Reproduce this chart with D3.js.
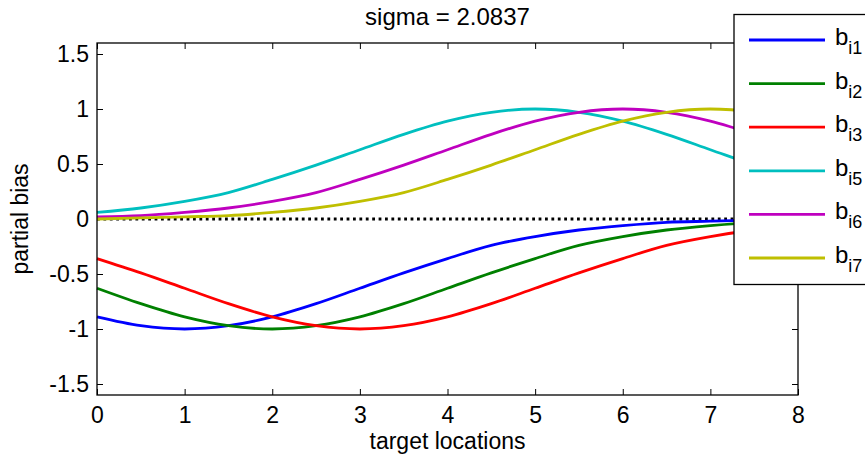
<!DOCTYPE html>
<html lang="en">

<head>
    <meta charset="UTF-8">
    <title>partial bias</title>
    <style>
        body {
            margin: 0;
            padding: 0;
            background-color: #fff;
        }

        svg {
            display: block;
            font-family: 'Liberation Sans', Arial, sans-serif;
        }

        .series {
            fill: none;
            stroke-width: 2.8px;
        }
    </style>
</head>

<body>
    <svg width="865" height="459"></svg>

    <script src="https://d3js.org/d3.v7.min.js"></script>
    <script>
        // target locations (x)
        const xValues = [0, 0.5, 1, 1.5, 2, 2.5, 3, 3.5, 4, 4.5, 5, 5.5, 6, 6.5, 7, 7.5, 8];

        // partial bias of each series, read at the x values above
        const bi1 = [-0.89, -0.97, -1.00, -0.97, -0.89, -0.77, -0.63, -0.49, -0.36, -0.24, -0.16, -0.10, -0.06, -0.03, -0.02, -0.01, -0.00];
        const bi2 = [-0.63, -0.77, -0.89, -0.97, -1.00, -0.97, -0.89, -0.77, -0.63, -0.49, -0.36, -0.24, -0.16, -0.10, -0.06, -0.03, -0.02];
        const bi3 = [-0.36, -0.49, -0.63, -0.77, -0.89, -0.97, -1.00, -0.97, -0.89, -0.77, -0.63, -0.49, -0.36, -0.24, -0.16, -0.10, -0.06];
        const bi5 = [0.06, 0.10, 0.16, 0.24, 0.36, 0.49, 0.63, 0.77, 0.89, 0.97, 1.00, 0.97, 0.89, 0.77, 0.63, 0.49, 0.36];
        const bi6 = [0.02, 0.03, 0.06, 0.10, 0.16, 0.24, 0.36, 0.49, 0.63, 0.77, 0.89, 0.97, 1.00, 0.97, 0.89, 0.77, 0.63];
        const bi7 = [0.00, 0.01, 0.02, 0.03, 0.06, 0.10, 0.16, 0.24, 0.36, 0.49, 0.63, 0.77, 0.89, 0.97, 1.00, 0.97, 0.89];

        const seriesNames = ["i1", "i2", "i3", "i5", "i6", "i7"];
        const seriesColors = ["#0000ff", "#008000", "#ff0000", "#00bfbf", "#bf00bf", "#bfbf00"];
        const seriesValues = [bi1, bi2, bi3, bi5, bi6, bi7];

        const xTicks = [0, 1, 2, 3, 4, 5, 6, 7, 8];
        const yTicks = [-1.5, -1, -0.5, 0, 0.5, 1, 1.5];

        const titleText = "sigma = 2.0837";
        const xLabel = "target locations";
        const yLabel = "partial bias";

        // plot box
        const boxL = 97, boxR = 798, boxT = 43, boxB = 395;

        const svg = d3.select("svg");

        const x = d3.scaleLinear().domain([0, 8]).range([boxL, boxR]);
        const y = d3.scaleLinear().domain([-1.6, 1.6]).range([boxB, boxT]);

        const fmt = v => String(v);
        const fontFam = "'Liberation Sans', Arial, sans-serif";

        // axes, ticks pointing inward (matlab style)
        svg.append("g")
            .attr("transform", `translate(0,${boxB})`)
            .call(d3.axisBottom(x).tickValues(xTicks).tickSizeInner(-6).tickSizeOuter(0).tickPadding(12).tickFormat(fmt))
            .call(g => g.select(".domain").remove())
            .call(g => g.selectAll("text").attr("fill", "#000").style("font-size", "23px").style("font-family", fontFam));

        svg.append("g")
            .attr("transform", `translate(0,${boxT})`)
            .call(d3.axisTop(x).tickValues(xTicks).tickSizeInner(-6).tickSizeOuter(0).tickFormat(""))
            .call(g => g.select(".domain").remove());

        svg.append("g")
            .attr("transform", `translate(${boxL},0)`)
            .call(d3.axisLeft(y).tickValues(yTicks).tickSizeInner(-6).tickSizeOuter(0).tickPadding(8).tickFormat(fmt))
            .call(g => g.select(".domain").remove())
            .call(g => g.selectAll("text").attr("fill", "#000").style("font-size", "23px").style("font-family", fontFam));

        svg.append("g")
            .attr("transform", `translate(${boxR},0)`)
            .call(d3.axisRight(y).tickValues(yTicks).tickSizeInner(-6).tickSizeOuter(0).tickFormat(""))
            .call(g => g.select(".domain").remove());

        svg.selectAll(".tick line").attr("stroke", "#000");

        // zero line
        svg.append("line")
            .attr("x1", x(0)).attr("x2", x(8))
            .attr("y1", y(0)).attr("y2", y(0))
            .attr("stroke", "#000")
            .attr("stroke-width", 2.8)
            .attr("stroke-dasharray", "2.8,3.6");

        // curves
        const line = d3.line()
            .x((d, i) => x(xValues[i]))
            .y(d => y(d))
            .curve(d3.curveMonotoneX);

        svg.append("g")
            .selectAll("path")
            .data(seriesValues)
            .enter().append("path")
            .attr("class", "series")
            .attr("stroke", (d, i) => seriesColors[i])
            .attr("d", line);

        // box
        svg.append("rect")
            .attr("x", boxL).attr("y", boxT)
            .attr("width", boxR - boxL).attr("height", boxB - boxT)
            .attr("fill", "none")
            .attr("stroke", "#000")
            .attr("stroke-width", 1.3);

        // title and labels
        svg.append("text")
            .attr("x", (boxL + boxR) / 2).attr("y", 25)
            .attr("text-anchor", "middle")
            .style("font-size", "24px")
            .text(titleText);

        svg.append("text")
            .attr("x", (boxL + boxR) / 2).attr("y", 449)
            .attr("text-anchor", "middle")
            .style("font-size", "23px")
            .text(xLabel);

        svg.append("text")
            .attr("transform", `translate(28,${(boxT + boxB) / 2}) rotate(-90)`)
            .attr("text-anchor", "middle")
            .style("font-size", "23px")
            .text(yLabel);

        // legend, drawn over the plot
        const legend = svg.append("g");
        legend.append("rect")
            .attr("x", 734).attr("y", 14.5)
            .attr("width", 150).attr("height", 270)
            .attr("fill", "#fff")
            .attr("stroke", "#000")
            .attr("stroke-width", 1.3);

        const item = legend.selectAll("g.item")
            .data(seriesNames)
            .enter().append("g")
            .attr("class", "item")
            .attr("transform", (d, i) => `translate(0,${40 + i * 43.6})`);

        item.append("line")
            .attr("x1", 749).attr("x2", 825)
            .attr("stroke", (d, i) => seriesColors[i])
            .attr("stroke-width", 2.8);

        const label = item.append("text")
            .attr("x", 835).attr("y", 5)
            .style("font-size", "24px");
        label.append("tspan").text("b");
        label.append("tspan")
            .attr("dy", 9)
            .style("font-size", "18px")
            .text(d => d);
    </script>
</body>

</html>
